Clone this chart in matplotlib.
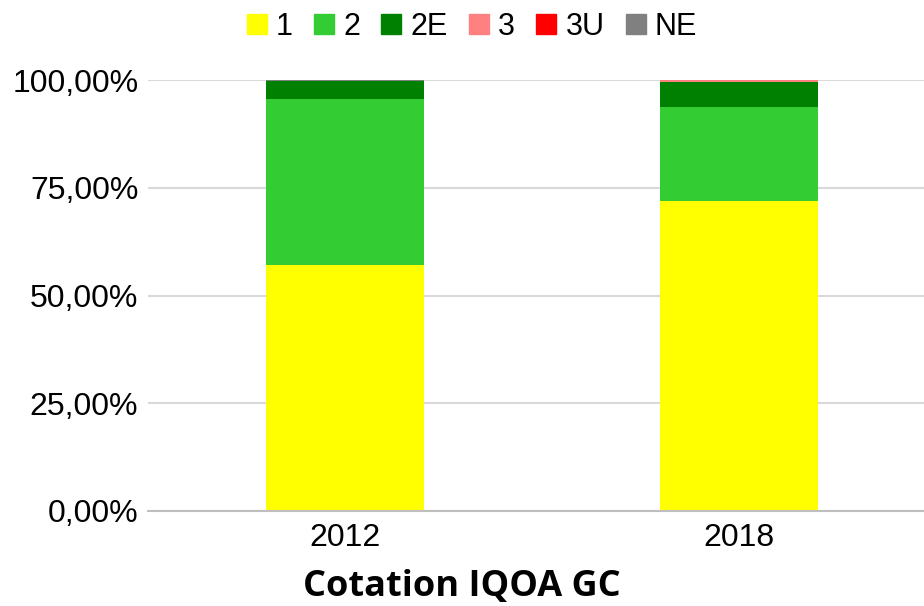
import matplotlib.pyplot as plt
from matplotlib.patches import Patch
from matplotlib.ticker import FuncFormatter

years = ["2012", "2018"]
series = ["1", "2", "2E", "3", "3U", "NE"]
colors = ["#ffff00", "#33cc33", "#008000", "#ff8080", "#ff0000", "#808080"]
values = {
    "1":  [57.1, 71.9],
    "2":  [38.5, 21.8],
    "2E": [4.1, 5.8],
    "3":  [0.0, 0.4],
    "3U": [0.0, 0.1],
    "NE": [0.3, 0.0],
}

plt.rcParams['font.family'] = ['Liberation Sans', 'DejaVu Sans']

fig = plt.figure(figsize=(9.24, 6.06), dpi=100)
ax = fig.add_axes([148/924, (606-511)/606, 788/924, 431/606])

x = list(range(len(years)))
bottom = [0.0] * len(years)
for name, col in zip(series, colors):
    ax.bar(x, values[name], 0.4, bottom=bottom, color=col, zorder=2)
    bottom = [b + v for b, v in zip(bottom, values[name])]

ax.set_xlim(-0.5, 1.5)
ax.set_ylim(0, 100)
ax.set_yticks([0, 25, 50, 75, 100])
ax.yaxis.set_major_formatter(FuncFormatter(lambda v, p: f"{v:.2f}%".replace(".", ",")))
ax.set_xticks(x)
ax.set_xticklabels(years)
ax.tick_params(axis='both', labelsize=23, length=0)
ax.tick_params(axis='y', pad=7)
ax.tick_params(axis='x', pad=9)
ax.grid(axis='y', color='#d9d9d9', linewidth=1.5, zorder=0)
for s in ['top', 'right', 'left']:
    ax.spines[s].set_visible(False)
ax.spines['bottom'].set_color('#bfbfbf')
ax.spines['bottom'].set_linewidth(1.5)

fig.text(462/924, 1 - 587/606, "Cotation IQOA GC", fontsize=26, fontweight='bold',
         family=['Open Sans', 'DejaVu Sans'], ha='center', va='center')

handles = [Patch(color=c, label=n) for n, c in zip(series, colors)]
fig.legend(handles=handles, loc='center', bbox_to_anchor=(472/924, 1 - 27/606),
           ncol=6, frameon=False, fontsize=22, handlelength=0.65, handleheight=0.65,
           handletextpad=0.3, columnspacing=0.7, borderaxespad=0.0, borderpad=0.0)

fig.savefig("out.png", dpi=100)
